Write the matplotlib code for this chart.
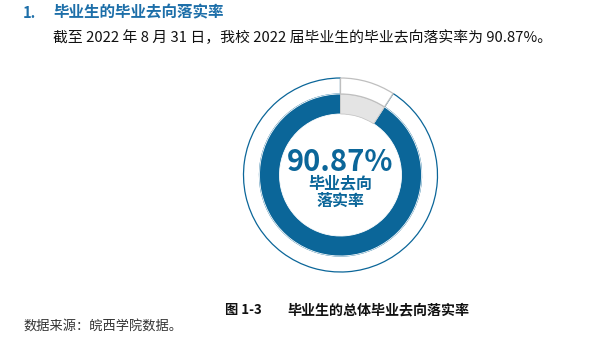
import matplotlib
matplotlib.use("Agg")
import matplotlib.pyplot as plt

plt.rcParams['font.family'] = ['Noto Sans CJK SC', 'DejaVu Sans']

labels = ["已落实", "未落实"]
values = [90.87, 9.13]
center_value = "90.87%"
center_label = "毕业去向\n落实率"
heading_num = "1."
heading = "毕业生的毕业去向落实率"
body = "截至 2022 年 8 月 31 日，我校 2022 届毕业生的毕业去向落实率为 90.87%。"
caption_num = "图 1-3"
caption = "毕业生的总体毕业去向落实率"
source = "数据来源：皖西学院数据。"

BLUE = "#0B6699"
GREY = "#E4E4E4"
EDGE_GREY = "#BFBFBF"
HEAD_BLUE = "#1D6FA9"

W, H = 591, 340
fig = plt.figure(figsize=(W / 100, H / 100), dpi=100)

# donut axes: 1 data unit = 1 px
cx, cy = 340.5, 175
ax = fig.add_axes([(cx - 100) / W, (H - cy - 100) / H, 200 / W, 200 / H])

# outer thin ring
outer, _ = ax.pie(values, radius=97, startangle=90, counterclock=True,
                  wedgeprops=dict(width=16, linewidth=0.9))
outer[0].set_facecolor("white"); outer[0].set_edgecolor(BLUE)
outer[1].set_facecolor("white"); outer[1].set_edgecolor(EDGE_GREY)
outer[1].set_zorder(3)

# inner thick ring
inner, _ = ax.pie(values, radius=81, startangle=90, counterclock=True,
                  colors=[BLUE, GREY],
                  wedgeprops=dict(width=20, linewidth=0.6, edgecolor="white"))
inner[1].set_edgecolor(EDGE_GREY)
inner[1].set_linewidth(0.5)

ax.set_xlim(-100, 100)
ax.set_ylim(-100, 100)
ax.set_aspect("equal")
ax.axis("off")

ax.text(0, 13, center_value, ha="center", va="center", fontsize=21,
        fontweight="bold", color=BLUE)
ax.text(0, -17, center_label, ha="center", va="center", fontsize=11.5,
        fontweight="bold", color=BLUE, linespacing=1.12)

# texts
def px(x, y):
    return x / W, 1 - y / H

fig.text(*px(23, 12.5), heading_num, ha="left", va="center", fontsize=10.5,
         fontweight="bold", color=HEAD_BLUE)
fig.text(*px(53, 12.5), heading, ha="left", va="center", fontsize=11.2,
         fontweight="bold", color=HEAD_BLUE)
fig.text(*px(53, 38), body, ha="left", va="center", fontsize=10.7,
         color="#111111")
fig.text(*px(225, 310), caption_num, ha="left", va="center", fontsize=9.5,
         fontweight="bold", color="#111111")
fig.text(*px(287, 310), caption, ha="left", va="center", fontsize=10.1,
         fontweight="bold", color="#111111")
fig.text(*px(23, 327), source, ha="left", va="center", fontsize=9.5,
         color="#333333")

fig.savefig("out.png", dpi=100)
